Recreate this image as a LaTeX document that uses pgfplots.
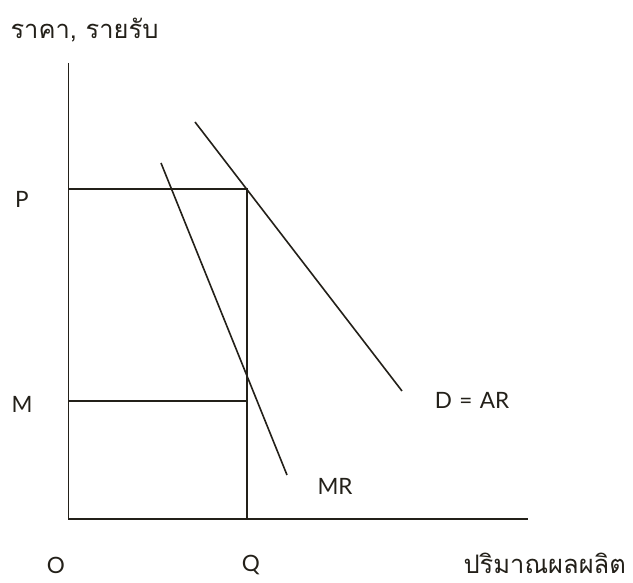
\documentclass[border=0pt]{standalone}
\usepackage{fontspec}
\setmainfont{Lato}
\newfontfamily\thaifont[Script=Thai]{Loma}
\usepackage{pgfplots}
\pgfplotsset{compat=1.18}
\definecolor{ln}{RGB}{35,32,25}
\tikzset{ln/.style={color=ln, line width=1.6pt, mark=none}}
\begin{document}
\begin{tikzpicture}
\begin{axis}[
  scale only axis, width=633pt, height=583pt,
  xmin=0, xmax=633, ymin=0, ymax=583,
  hide axis, clip=false,
]
% axes
\addplot[ln] coordinates {(68.5,520) (68.5,64) (528,64)};
% rectangle P-Q
\addplot[ln] coordinates {(68.5,394) (247,394) (247,64)};
% M line
\addplot[ln] coordinates {(68.5,182) (247,182)};
% D = AR
\addplot[ln] coordinates {(195,461) (402,192)};
% MR
\addplot[ln] coordinates {(161,420) (287,108)};
\node[font=\fontsize{25.5}{28}\selectfont\thaifont, anchor=west, color=ln] at (axis cs:7,553) {ราคา, รายรับ};
\node[font=\fontsize{25.5}{28}\selectfont\thaifont, anchor=west, color=ln] at (axis cs:460,20) {ปริมาณผลผลิต};
\node[font=\fontsize{22.5}{26}\selectfont, color=ln] at (axis cs:22,384) {P};
\node[font=\fontsize{22.5}{26}\selectfont, color=ln] at (axis cs:22,179) {M};
\node[font=\fontsize{22.5}{26}\selectfont, color=ln] at (axis cs:56,18) {O};
\node[font=\fontsize{22.5}{26}\selectfont, color=ln] at (axis cs:251,18) {Q};
\node[font=\fontsize{22.5}{26}\selectfont, color=ln] at (axis cs:472,183) {D\,\,=\,\,AR};
\node[font=\fontsize{22.5}{26}\selectfont, color=ln] at (axis cs:335,97) {MR};
\end{axis}
\pgfresetboundingbox
\path (current axis.south west) rectangle (current axis.north east);
\end{tikzpicture}
\end{document}
